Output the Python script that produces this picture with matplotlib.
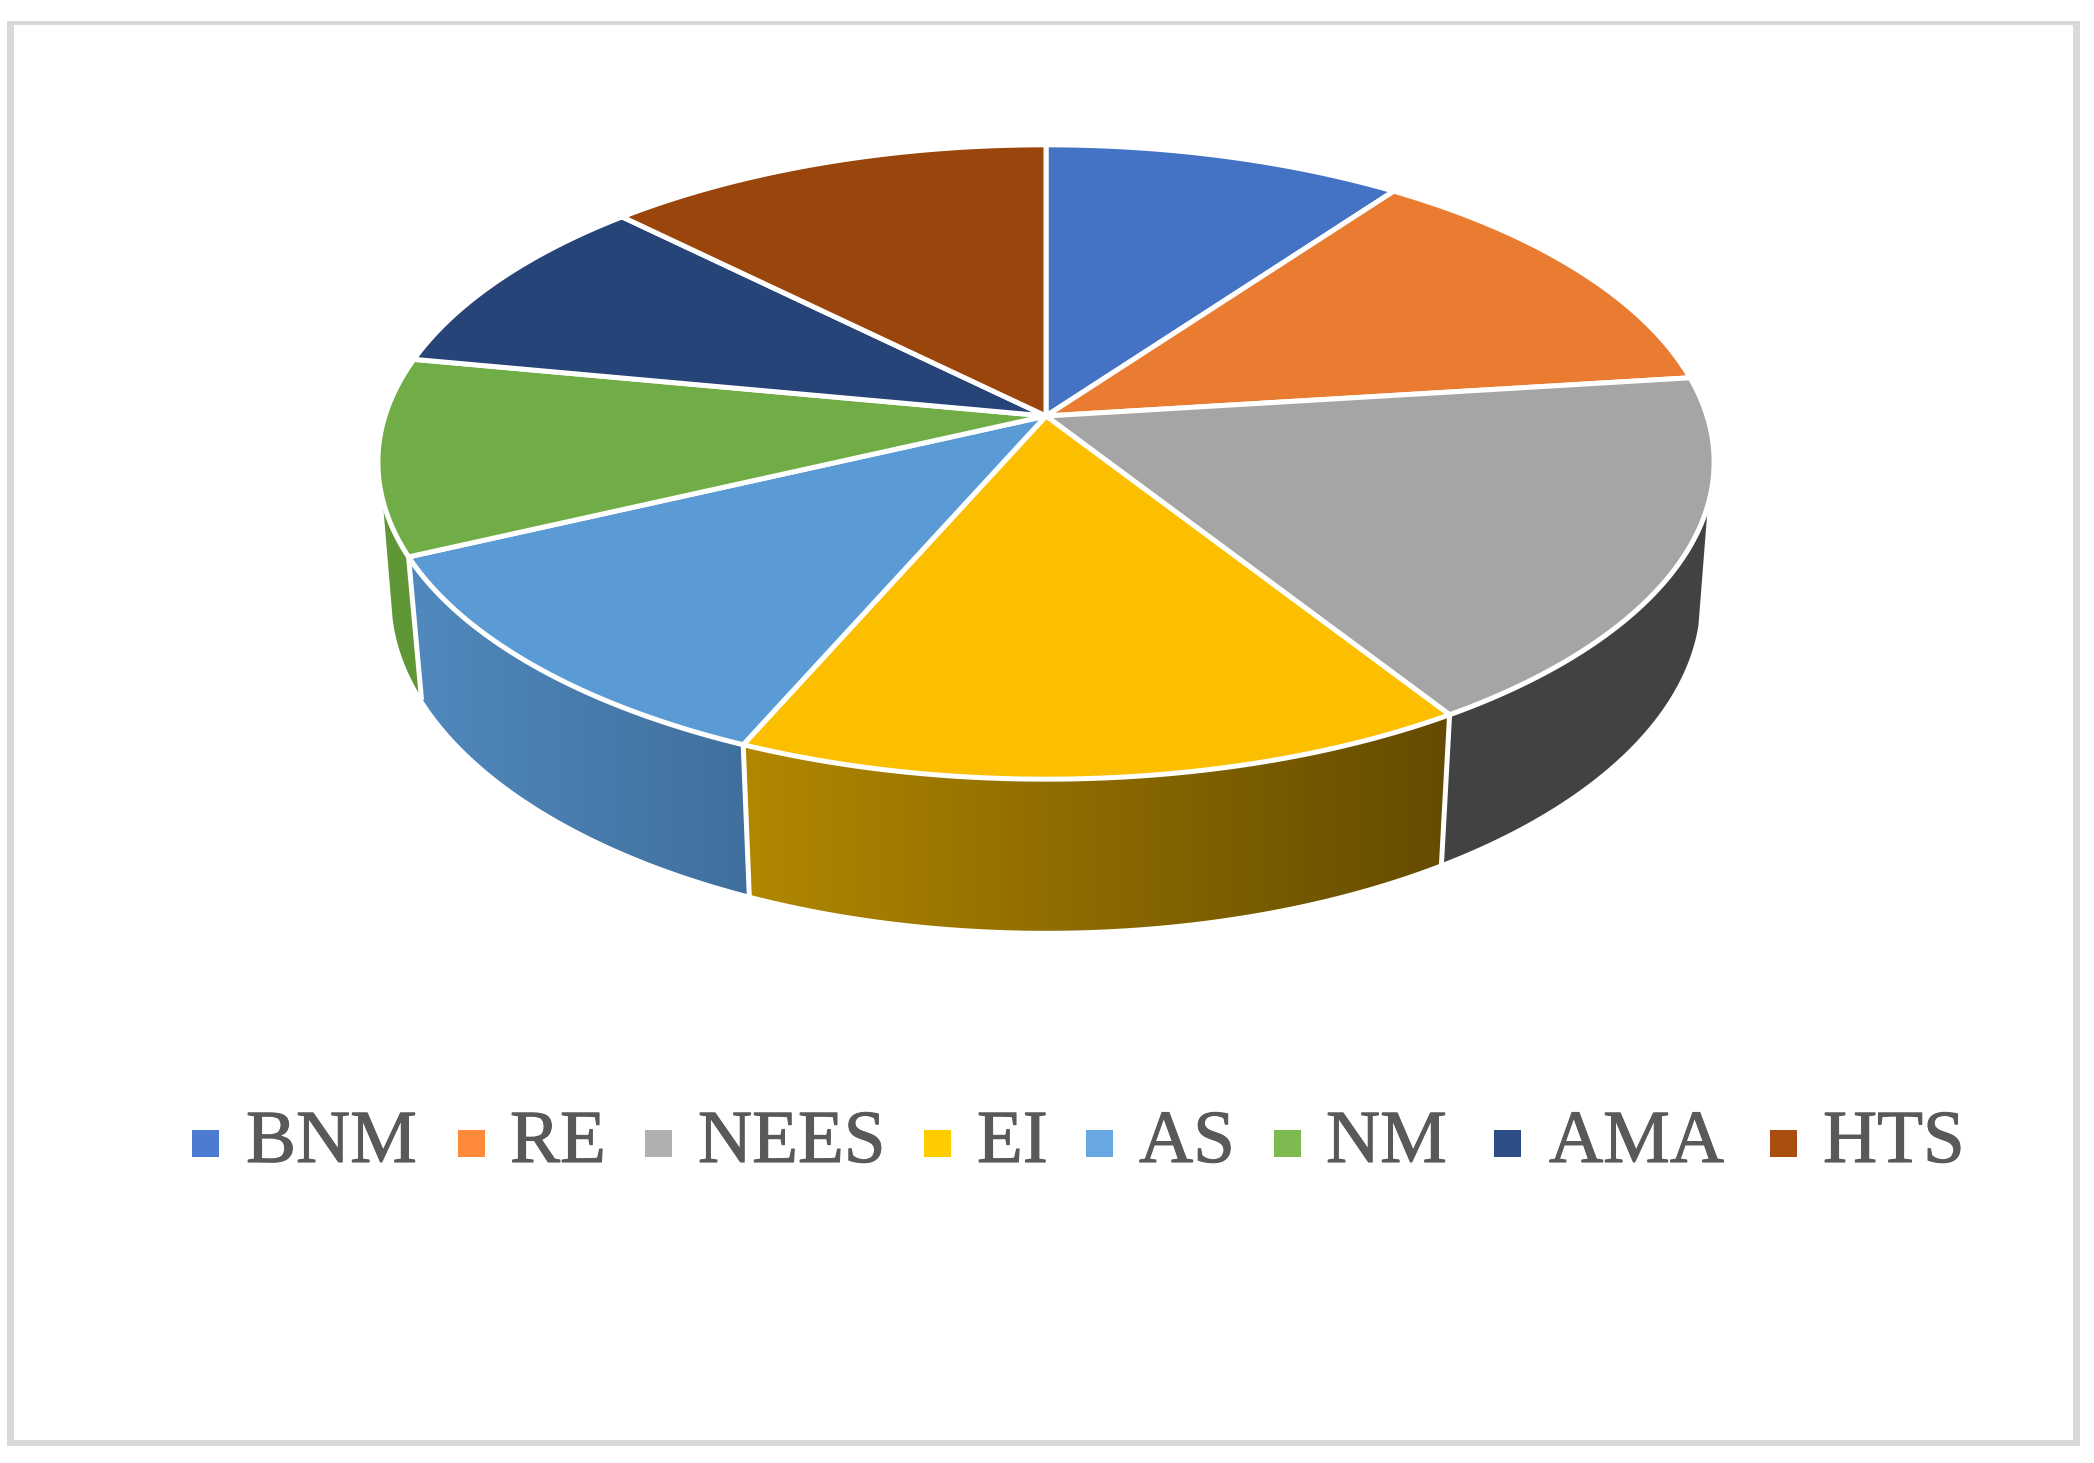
import numpy as np
import matplotlib
matplotlib.use("Agg")
import matplotlib.pyplot as plt
import matplotlib.patheffects as pe
from matplotlib.patches import Polygon, Rectangle
from matplotlib.colors import LinearSegmentedColormap

labels = ["BNM", "RE", "NEES", "EI", "AS", "NM", "AMA", "HTS"]
values = [10, 13, 18, 15.5, 11.5, 10, 9.5, 12.5]
top_colors = ["#4472C4", "#EA7C31", "#A5A5A5", "#FBBF00", "#5B9BD5", "#70AD47", "#264478", "#9A450C"]
legend_colors = ["#4D7BD1", "#FF8A3A", "#B0B0B0", "#FFCC00", "#67A8E3", "#7DBA4F", "#2C4E85", "#A84E10"]
swatch_left = [192, 458, 645, 924, 1086, 1274, 1494, 1770]
label_left = [246, 510, 698, 977, 1139, 1326, 1549, 1823]

W, H = 2094, 1463
CX, CY, A, B, K = 1046, 416, 661, 310.5, 0.145   # projected disc
SX, SY, DROP = 0.98, 1.05, 133.5                 # lower rim relative to the upper rim

fig = plt.figure(figsize=(W / 100, H / 100), dpi=100, facecolor="white")
ax = fig.add_axes([0, 0, 1, 1])


def rim(deg, lower=False):
    t = np.radians(np.asarray(deg, dtype=float))
    X, Y = np.sin(t), np.cos(t)
    w = 1 + K * Y
    dx, dy = A * X / w, -B * Y / w
    if lower:
        dx, dy = dx * SX, dy * SY + DROP
    return np.column_stack([CX + dx, CY + dy])


edges = np.concatenate([[0], np.cumsum(values)]) / np.sum(values) * 360


def wall(a0_top, a1_top, a0_low, a1_low):
    t = rim(np.linspace(a0_top, a1_top, 160))
    l = rim(np.linspace(a1_low, a0_low, 160), lower=True)
    return np.vstack([t, l])


def gradient_wall(pts, c_left, c_right):
    cmap = LinearSegmentedColormap.from_list("g", [c_left, c_right])
    x0, x1 = pts[:, 0].min(), pts[:, 0].max()
    y0, y1 = pts[:, 1].min(), pts[:, 1].max()
    im = ax.imshow(np.linspace(0, 1, 256)[None, :], cmap=cmap, aspect="auto",
                   extent=[x0, x1, y1, y0], zorder=1, interpolation="bilinear")
    im.set_clip_path(Polygon(pts, closed=True, transform=ax.transData))


# side walls of the slices facing the viewer
ax.add_patch(Polygon(wall(106, edges[3], 103, edges[3]), closed=True, fc="#424242", ec="none", zorder=1))
gradient_wall(wall(edges[3], edges[4], edges[3], edges[4]), "#B28800", "#644B00")
gradient_wall(wall(edges[4], edges[5], edges[4], edges[5]), "#5189BE", "#406F9D")
ax.add_patch(Polygon(wall(edges[5], 255, edges[5], 258), closed=True, fc="#5F9636", ec="none", zorder=1))

# white gaps between the walls
for e in edges[3:6]:
    seg = np.vstack([rim([e]), rim([e], lower=True)])
    ax.plot(seg[:, 0], seg[:, 1], color="white", lw=3.6, solid_capstyle="projecting", zorder=2)

# top face
for i, c in enumerate(top_colors):
    p = rim(np.linspace(edges[i], edges[i + 1], 160))
    ax.add_patch(Polygon(np.vstack([[CX, CY], p]), closed=True, fc=c, ec="white",
                         lw=3.6, joinstyle="round", zorder=3))

# outer frame
frame = "#D9D9D9"
for x, y, w, h in [(7, 21, 7, 1425), (2073, 21, 7, 1425), (7, 21, 2073, 4), (7, 1440, 2073, 6)]:
    ax.add_patch(Rectangle((x, y), w, h, fc=frame, ec="none", zorder=5))

# legend
for name, col, sx, lx in zip(labels, legend_colors, swatch_left, label_left):
    ax.add_patch(Rectangle((sx, 1130), 27, 27, fc=col, ec="none", zorder=4))
    ax.text(lx, 1162, name, family="Liberation Serif", fontsize=54, color="#595959",
            ha="left", va="baseline", zorder=4,
            path_effects=[pe.withStroke(linewidth=0.8, foreground="#595959")])

ax.set_xlim(0, W)
ax.set_ylim(H, 0)
ax.axis("off")
fig.savefig("out.png", dpi=100, facecolor="white")
